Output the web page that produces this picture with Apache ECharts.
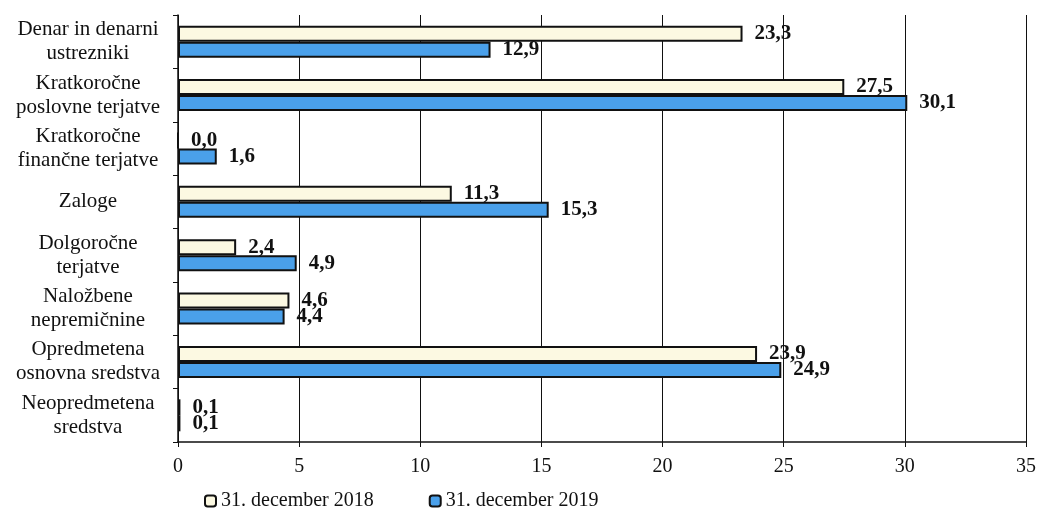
<!DOCTYPE html>
<html>
<head>
<meta charset="utf-8">
<script src="https://cdn.jsdelivr.net/npm/echarts@6/dist/echarts.min.js"></script>
<style>
  html, body { margin: 0; padding: 0; background: #fff; }
  #chart { width: 1039px; height: 508px; }
</style>
</head>
<body>
<div id="chart"></div>
<script>
// kategorije od zgoraj navzdol
const categories = [
  'Denar in denarni\nustrezniki',
  'Kratkoročne\nposlovne terjatve',
  'Kratkoročne\nfinančne terjatve',
  'Zaloge',
  'Dolgoročne\nterjatve',
  'Naložbene\nnepremičnine',
  'Opredmetena\nosnovna sredstva',
  'Neopredmetena\nsredstva'
]
const seriesNames = ['31. december 2018', '31. december 2019']
const values2018 = [23.3, 27.5, 0.0, 11.3, 2.4, 4.6, 23.9, 0.1]
const values2019 = [12.9, 30.1, 1.6, 15.3, 4.9, 4.4, 24.9, 0.1]

const font = 'Liberation Serif, Times New Roman, serif'

// vejica kot decimalno ločilo
const fmt = (p) => p.value.toFixed(1).replace('.', ',')

const barLabel = {
  show: true,
  position: 'right',
  distance: 12,
  formatter: fmt,
  color: '#111',
  fontFamily: font,
  fontWeight: 'bold',
  fontSize: 21
}

const chart = echarts.init(document.getElementById('chart'))
chart.setOption({
  animation: false,
  backgroundColor: '#fff',
  textStyle: { fontFamily: font },
  grid: { left: 178, right: 11, top: 15, bottom: 66 },
  legend: {
    left: 199,
    top: 486,
    itemWidth: 11,
    itemHeight: 11,
    itemGap: 55,
    icon: 'roundRect',
    textStyle: { fontFamily: font, fontSize: 20, color: '#111' },
    data: seriesNames
  },
  xAxis: {
    type: 'value',
    min: 0,
    max: 35,
    interval: 5,
    axisLine: { show: true, lineStyle: { color: '#111', width: 1.5 } },
    axisTick: { show: true, length: 5, lineStyle: { color: '#111' } },
    axisLabel: { color: '#111', fontFamily: font, fontSize: 20, margin: 15 },
    splitLine: { show: true, lineStyle: { color: '#111', width: 1 } }
  },
  yAxis: {
    type: 'category',
    inverse: true,
    data: categories,
    axisLine: { show: true, lineStyle: { color: '#111', width: 1.5 } },
    axisTick: { show: true, length: 5, lineStyle: { color: '#111' } },
    axisLabel: {
      color: '#111',
      fontFamily: font,
      fontSize: 21,
      lineHeight: 24,
      align: 'center',
      margin: 90
    }
  },
  series: [
    {
      name: seriesNames[0],
      type: 'bar',
      data: values2018,
      barWidth: 16,
      barGap: '0%',
      itemStyle: { color: '#fcf9e2', borderColor: '#111', borderWidth: 2 },
      label: barLabel
    },
    {
      name: seriesNames[1],
      type: 'bar',
      data: values2019,
      barWidth: 16,
      barGap: '0%',
      itemStyle: { color: '#4aa0ea', borderColor: '#111', borderWidth: 2 },
      label: barLabel
    }
  ]
})
</script>
</body>
</html>
